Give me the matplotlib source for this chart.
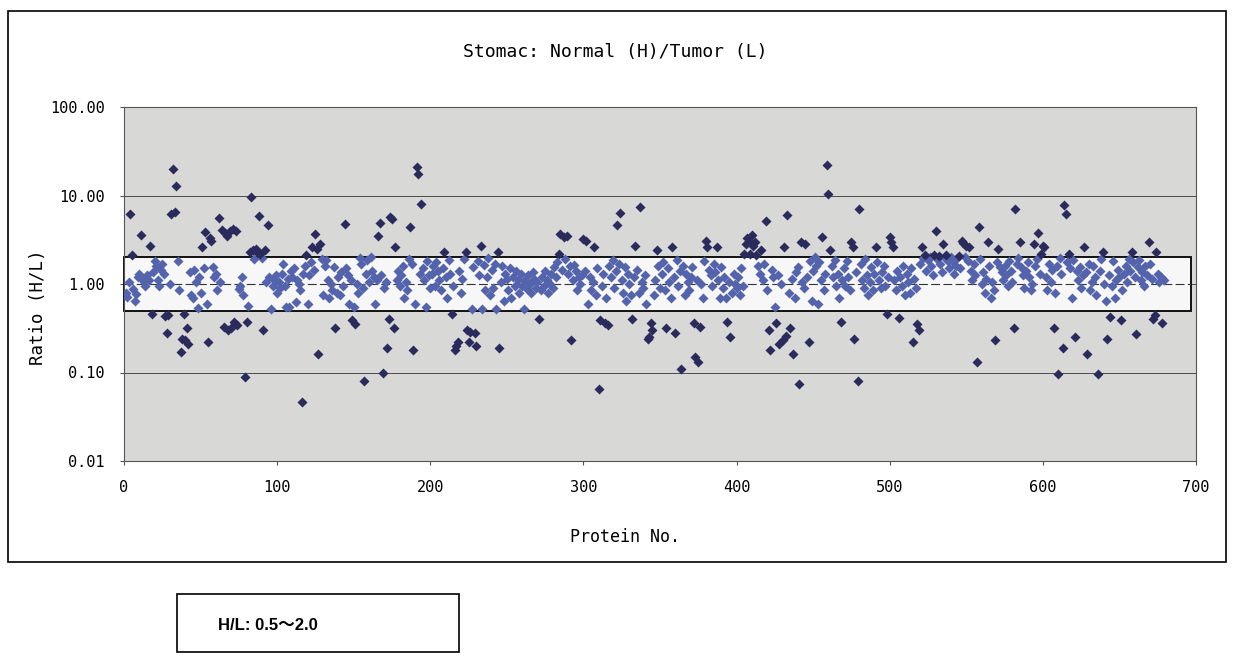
import numpy as np
import matplotlib
matplotlib.use('Agg')
import matplotlib.pyplot as plt
from matplotlib.patches import Rectangle
from matplotlib.ticker import NullLocator

plt.rcParams['font.family'] = ['DejaVu Sans Mono']

# H/L ratio per protein, in protein-number order (1..679)
ratio = [
    0.80, 0.72, 1.05, 6.2, 2.1, 0.88, 0.65, 0.78, 1.20, 1.30,
    3.6, 1.15, 1.05, 0.95, 1.25, 1.10, 2.7, 0.46, 1.35, 1.80,
    1.60, 1.10, 0.95, 1.45, 1.70, 1.30, 0.43, 0.28, 0.45, 1.00,
    6.1, 20.0, 6.5, 12.7, 1.80, 0.85, 0.17, 0.24, 0.46, 0.23,
    0.32, 0.21, 1.35, 0.75, 0.70, 1.45, 1.05, 0.54, 1.20, 0.80,
    2.6, 1.50, 3.9, 0.60, 0.22, 3.3, 3.1, 1.55, 1.20, 1.30,
    0.85, 5.6, 1.05, 4.1, 0.33, 3.8, 3.5, 0.30, 4.0, 0.32,
    4.2, 0.37, 4.0, 0.34, 0.88, 0.95, 1.20, 0.75, 0.089, 0.37,
    0.57, 2.3, 9.6, 2.4, 1.90, 2.5, 2.3, 5.8, 2.2, 1.95,
    0.30, 2.4, 1.05, 4.6, 1.20, 0.52, 0.95, 1.10, 1.25, 0.80,
    1.05, 0.90, 1.30, 1.70, 0.95, 0.55, 1.15, 0.55, 1.40, 1.20,
    1.50, 0.62, 1.10, 1.00, 0.85, 0.046, 1.30, 1.60, 2.10, 0.60,
    1.25, 1.75, 2.60, 1.45, 3.7, 2.50, 0.16, 2.80, 1.90, 0.75,
    1.60, 1.85, 1.10, 0.70, 1.00, 0.85, 1.55, 0.32, 0.80, 1.20,
    0.75, 1.35, 0.95, 4.8, 1.50, 1.25, 0.60, 1.10, 0.39, 0.55,
    0.35, 1.00, 0.80, 1.95, 1.70, 0.90, 0.08, 1.30, 1.85, 1.05,
    2.00, 1.40, 1.20, 0.60, 1.10, 3.5, 4.9, 1.25, 0.10, 0.90,
    1.05, 0.19, 0.40, 5.7, 5.4, 0.32, 2.6, 1.10, 1.40, 0.95,
    1.25, 1.60, 0.70, 1.05, 0.85, 1.90, 4.4, 1.70, 0.18, 0.60,
    21.0, 17.5, 1.30, 8.1, 1.50, 1.10, 0.55, 1.80, 1.25, 0.90,
    1.30, 1.60, 0.95, 1.75, 1.40, 1.10, 0.85, 1.50, 2.30, 1.20,
    0.70, 1.85, 1.30, 0.46, 0.95, 0.18, 0.20, 0.22, 1.40, 0.80,
    1.15, 1.90, 2.30, 0.30, 0.22, 0.29, 0.52, 1.55, 0.28, 0.20,
    1.80, 1.25, 2.70, 0.52, 1.65, 0.85, 1.20, 1.95, 0.75, 1.45,
    0.90, 1.70, 0.52, 2.30, 0.19, 1.05, 1.60, 0.65, 1.30, 1.15,
    0.85, 1.50, 0.70, 1.20, 0.95, 1.40, 1.10, 0.80, 1.30, 0.95,
    0.52, 1.10, 0.88, 1.25, 1.00, 0.80, 1.35, 1.15, 0.90, 1.05,
    0.40, 0.85, 1.20, 0.95, 1.40, 1.10, 0.80, 1.00, 1.30, 0.90,
    1.55, 1.20, 1.75, 2.20, 3.70, 1.45, 3.40, 1.90, 3.50, 1.30,
    1.60, 0.23, 1.10, 1.65, 1.40, 0.85, 1.20, 1.00, 1.25, 3.20,
    1.40, 3.10, 0.60, 1.20, 0.85, 1.05, 2.60, 0.75, 1.50, 0.065,
    0.39, 0.95, 1.30, 0.36, 0.70, 0.34, 1.60, 1.20, 1.85, 0.90,
    1.40, 4.70, 1.70, 6.30, 1.10, 0.80, 1.55, 0.65, 1.30, 1.00,
    0.75, 0.40, 1.20, 2.70, 1.45, 0.80, 7.40, 1.05, 0.90, 1.25,
    0.60, 0.24, 0.25, 0.36, 0.30, 0.75, 1.10, 2.40, 1.60, 0.90,
    1.30, 1.75, 0.85, 0.32, 1.50, 1.05, 0.70, 2.60, 1.20, 0.28,
    1.85, 0.95, 1.40, 0.11, 1.60, 0.75, 1.30, 1.05, 0.85, 1.20,
    1.55, 0.36, 0.15, 1.10, 0.13, 0.33, 1.00, 0.70, 1.80, 3.10,
    2.60, 1.45, 1.25, 0.95, 1.70, 1.35, 2.60, 1.10, 0.70, 1.55,
    0.90, 1.20, 0.70, 0.37, 1.05, 0.25, 0.80, 1.30, 1.00, 0.90,
    1.20, 0.75, 1.50, 0.95, 2.20, 2.80, 3.30, 3.10, 2.20, 3.60,
    2.70, 3.00, 2.10, 1.60, 1.30, 2.40, 1.10, 1.70, 5.10, 0.85,
    0.30, 0.18, 1.45, 1.20, 0.55, 0.36, 1.25, 0.21, 1.00, 0.23,
    2.60, 0.26, 6.00, 0.80, 0.32, 1.15, 0.16, 0.70, 1.35, 1.55,
    0.075, 3.00, 1.05, 0.90, 2.80, 1.20, 0.22, 1.80, 0.65, 1.40,
    2.00, 1.60, 0.60, 1.75, 1.10, 3.40, 0.85, 1.30, 22.0, 10.5,
    2.40, 1.60, 1.20, 1.85, 0.95, 1.30, 0.70, 0.37, 1.10, 1.50,
    0.95, 1.80, 1.20, 0.85, 3.00, 2.60, 0.24, 1.35, 0.08, 7.00,
    1.70, 1.10, 0.90, 1.90, 1.25, 0.75, 1.05, 1.55, 0.85, 1.30,
    2.60, 1.75, 1.10, 0.90, 1.35, 1.60, 0.95, 0.46, 1.20, 3.40,
    3.00, 2.60, 1.10, 0.85, 1.40, 0.41, 1.20, 0.95, 1.60, 0.75,
    1.30, 1.05, 0.80, 1.50, 0.22, 1.15, 0.90, 0.35, 0.30, 1.70,
    2.60, 1.95, 2.10, 1.40, 1.85, 2.00, 1.60, 1.25, 2.10, 4.00,
    1.90, 2.05, 1.70, 1.35, 2.80, 1.95, 2.10, 1.80, 1.50, 2.00,
    1.75, 1.30, 1.60, 1.95, 2.05, 1.50, 3.10, 2.90, 2.00, 2.70,
    1.80, 2.60, 1.40, 1.10, 1.70, 1.25, 0.13, 4.40, 1.90, 1.00,
    1.35, 0.80, 1.15, 3.00, 1.60, 0.70, 1.05, 0.85, 0.23, 1.75,
    2.50, 1.55, 1.35, 1.10, 1.60, 1.25, 0.95, 1.80, 1.40, 1.05,
    0.32, 7.00, 1.70, 1.95, 3.00, 1.55, 1.25, 0.90, 1.40, 1.75,
    1.20, 0.85, 1.00, 2.80, 1.60, 1.90, 3.80, 1.30, 2.20, 2.70,
    2.60, 1.20, 0.85, 1.70, 1.05, 1.45, 0.32, 0.80, 1.60, 0.095,
    1.95, 1.30, 0.19, 7.80, 6.20, 1.75, 2.20, 1.50, 0.70, 1.85,
    0.25, 1.40, 1.10, 1.55, 0.90, 1.25, 2.60, 1.35, 0.16, 1.70,
    0.85, 1.05, 1.60, 1.20, 0.75, 0.097, 1.40, 1.90, 2.30, 1.00,
    0.65, 0.24, 1.25, 0.42, 0.95, 1.80, 0.70, 1.10, 1.45, 1.20,
    0.39, 0.85, 1.30, 1.60, 1.05, 1.90, 1.40, 2.30, 1.75, 1.20,
    0.27, 1.55, 1.85, 1.10, 1.35, 0.95, 1.60, 1.25, 3.00, 1.70,
    1.15, 0.40, 0.45, 2.30, 1.30, 1.05, 1.20, 0.36, 1.10,
]

band_low, band_high = 0.5, 2.0
y_ticks = [0.01, 0.1, 1, 10, 100]
x_ticks = [0, 100, 200, 300, 400, 500, 600, 700]

protein_no = np.arange(1, len(ratio) + 1)
r = np.array(ratio)
inside = (r >= band_low) & (r <= band_high)

W, H = 1240, 663
fig = plt.figure(figsize=(W / 100, H / 100), dpi=100)

# frame around the chart
fig.patches.append(Rectangle((8 / W, 1 - 562 / H), (1226 - 8) / W, (562 - 11) / H,
                             transform=fig.transFigure, fill=False,
                             edgecolor='black', lw=1.2))

ax = fig.add_axes([124 / W, 1 - 461 / H, (1196 - 124) / W, (461 - 107) / H])
ax.set_facecolor('#d8d8d6')
ax.set_yscale('log')
ax.set_xlim(0, 700)
ax.set_ylim(0.01, 100)

for v in y_ticks[1:-1]:
    ax.axhline(v, color='#4a4a4a', lw=0.7, zorder=1)

# normal range band
ax.add_patch(Rectangle((0, band_low), 697, band_high - band_low,
                       facecolor='#f7f7f7', edgecolor='black', lw=1.3,
                       zorder=2, clip_on=False))
ax.axhline(1, xmax=697 / 700, color='#333333', lw=0.8, ls=(0, (8, 3)), zorder=2.5)

ax.scatter(protein_no[inside], r[inside], marker='D', s=26, color='#5464ac',
           linewidths=0, zorder=3)
ax.scatter(protein_no[~inside], r[~inside], marker='D', s=26, color='#2a2a5c',
           linewidths=0, zorder=3)

ax.set_yticks(y_ticks)
ax.set_yticklabels([f'{v:.2f}' for v in y_ticks])
ax.yaxis.set_minor_locator(NullLocator())
ax.set_xticks(x_ticks)
ax.set_xticklabels([str(v) for v in x_ticks])
ax.tick_params(axis='both', labelsize=11, length=3, color='#555555')
ax.tick_params(axis='y', pad=11)
ax.tick_params(axis='x', pad=11)
for s in ax.spines.values():
    s.set_color('#555555')
    s.set_linewidth(0.8)

fig.text(615 / W, 1 - 52 / H, 'Stomac: Normal (H)/Tumor (L)',
         ha='center', va='center', fontsize=13)
fig.text(38 / W, 1 - 307 / H, 'Ratio (H/L)', rotation=90,
         ha='center', va='center', fontsize=12.5)
fig.text(625 / W, 1 - 537 / H, 'Protein No.', ha='center', va='center', fontsize=12)

# range note box
fig.patches.append(Rectangle((177 / W, 1 - 652 / H), 282 / W, 58 / H,
                             transform=fig.transFigure, fill=False,
                             edgecolor='black', lw=1.2))
fig.text(218 / W, 1 - 625 / H, 'H/L: 0.5〜2.0', ha='left', va='center',
         fontsize=12, fontweight='bold',
         family=['Liberation Sans', 'Noto Sans CJK JP'])

fig.savefig('out.png', dpi=100, facecolor='white')
